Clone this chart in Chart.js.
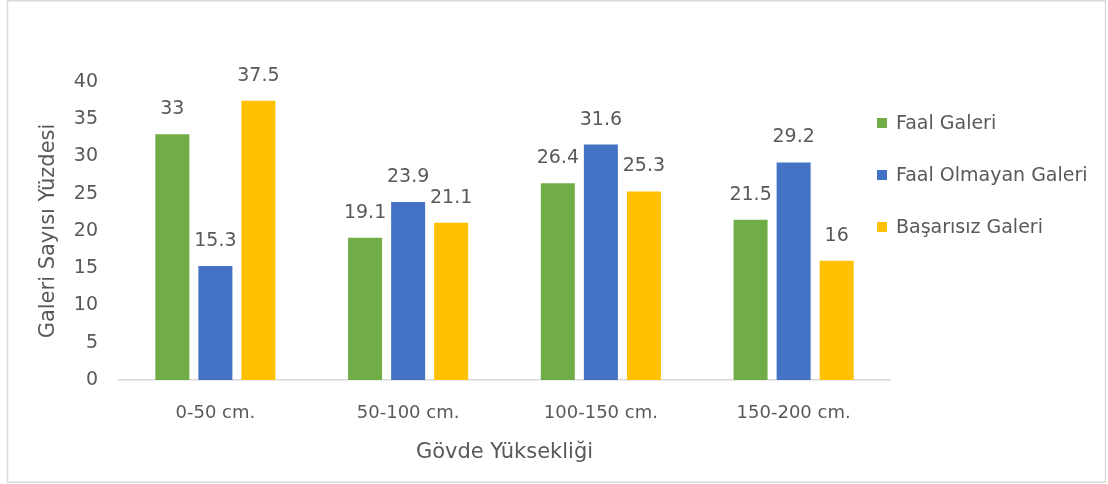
<!DOCTYPE html>
<html>
<head>
<meta charset="utf-8">
<script src="https://cdn.jsdelivr.net/npm/chart.js@4"></script>
<style>
  body { margin: 0; background: #fff; }
  #wrap { width: 1108px; height: 484px; }
</style>
</head>
<body>
<div id="wrap"><canvas id="myChart" width="1108" height="484"></canvas></div>
<script>
var categories = ['0-50 cm.', '50-100 cm.', '100-150 cm.', '150-200 cm.'];
var faalGaleri = [33, 19.1, 26.4, 21.5];
var faalOlmayanGaleri = [15.3, 23.9, 31.6, 29.2];
var basarisizGaleri = [37.5, 21.1, 25.3, 16];
var yTicks = [0, 5, 10, 15, 20, 25, 30, 35, 40];

var textColor = '#595959';
var fontFamily = "'DejaVu Sans', sans-serif";

// outer frame like the office chart border
var framePlugin = {
    id: 'frame',
    beforeDraw: function (chart) {
        var c = chart.ctx;
        c.save();
        c.fillStyle = '#fff';
        c.fillRect(0, 0, chart.width, chart.height);
        c.strokeStyle = '#d9d9d9';
        c.lineWidth = 1.5;
        c.strokeRect(7.5, 0.75, chart.width - 10, chart.height - 2.5);
        c.restore();
    }
};

// value labels above each bar
var barLabels = {
    id: 'barLabels',
    afterDatasetsDraw: function (chart) {
        var c = chart.ctx;
        c.save();
        c.font = '19px ' + fontFamily;
        c.fillStyle = textColor;
        c.textAlign = 'center';
        c.textBaseline = 'middle';
        chart.data.datasets.forEach(function (ds, i) {
            chart.getDatasetMeta(i).data.forEach(function (bar, j) {
                c.fillText(String(ds.data[j]), bar.x, bar.y - 25);
            });
        });
        c.restore();
    }
};

// legend on the right, items spaced like the original
var sideLegend = {
    id: 'sideLegend',
    afterDraw: function (chart) {
        var c = chart.ctx;
        var area = chart.chartArea;
        c.save();
        c.font = '19px ' + fontFamily;
        c.textBaseline = 'middle';
        chart.data.datasets.forEach(function (ds, i) {
            var y = area.top + 41 + i * 52;
            c.fillStyle = ds.backgroundColor;
            c.fillRect(area.right - 13, y - 5, 10, 10);
            c.fillStyle = textColor;
            c.fillText(ds.label, area.right + 6, y + 1);
        });
        c.restore();
    }
};

var ctx = document.getElementById('myChart').getContext('2d');
var myChart = new Chart(ctx, {
    type: 'bar',
    data: {
        labels: categories,
        datasets: [{
            label: 'Faal Galeri',
            data: faalGaleri,
            backgroundColor: '#70ad47',
        }, {
            label: 'Faal Olmayan Galeri',
            data: faalOlmayanGaleri,
            backgroundColor: '#4472c4',
        }, {
            label: 'Başarısız Galeri',
            data: basarisizGaleri,
            backgroundColor: '#ffc000',
        }],
    },
    options: {
        responsive: false,
        animation: false,
        devicePixelRatio: 1,
        categoryPercentage: 0.67,
        barPercentage: 0.79,
        layout: {
            padding: { left: 0, top: 82, right: 218, bottom: 0 },
        },
        plugins: {
            legend: { display: false },
            tooltip: { enabled: false },
        },
        scales: {
            x: {
                grid: { display: false, drawTicks: false },
                border: { display: true, color: '#d9d9d9', width: 1.5 },
                ticks: {
                    color: textColor,
                    padding: 23,
                    font: { size: 18, family: fontFamily },
                },
                title: {
                    display: true,
                    text: 'Gövde Yüksekliği',
                    color: textColor,
                    font: { size: 21, family: fontFamily },
                    padding: { top: 0, bottom: 19 },
                },
                afterFit: function (scale) { scale.height = 104; },
            },
            y: {
                min: 0,
                max: 40,
                afterBuildTicks: function (scale) {
                    scale.ticks = yTicks.map(function (v) { return { value: v }; });
                },
                grid: { display: false, drawTicks: false },
                border: { display: false },
                ticks: {
                    color: textColor,
                    padding: 21,
                    font: { size: 19, family: fontFamily },
                },
                title: {
                    display: true,
                    text: 'Galeri Sayısı Yüzdesi',
                    color: textColor,
                    font: { size: 21, family: fontFamily },
                    padding: { top: 36, bottom: 0 },
                },
                afterFit: function (scale) { scale.width = 119; },
            }
        },
    },
    plugins: [framePlugin, barLabels, sideLegend],
});
</script>
</body>
</html>
